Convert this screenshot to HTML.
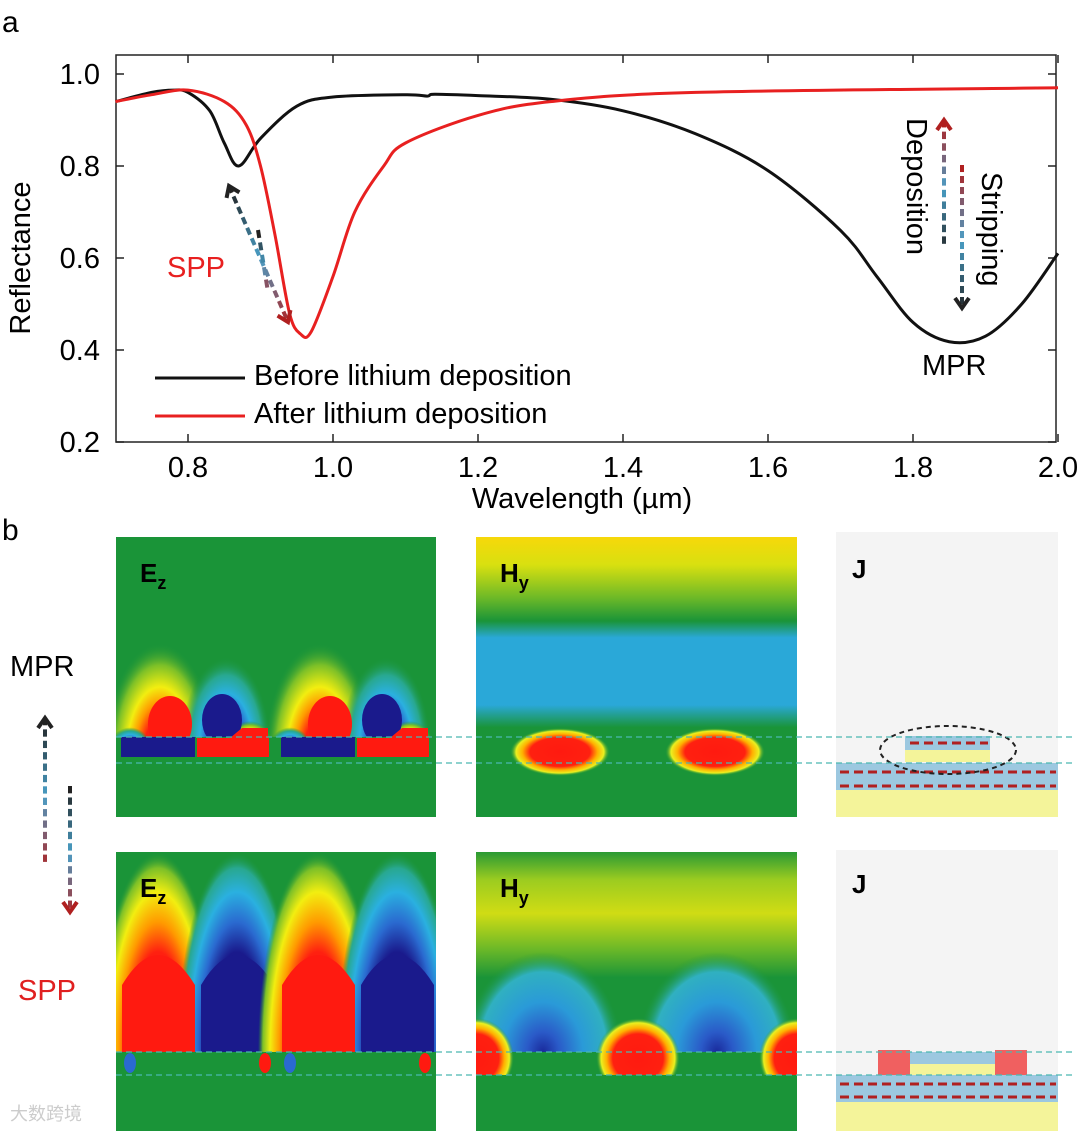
<!DOCTYPE html>
<html><head><meta charset="utf-8"><style>
html,body{margin:0;background:#fff;width:1080px;height:1133px;overflow:hidden;font-family:"Liberation Sans",sans-serif}
svg{position:absolute;left:0;top:0;display:block}
</style></head><body>
<svg id="s" width="1080" height="1133" viewBox="0 0 1080 1133" xmlns="http://www.w3.org/2000/svg" font-family="Liberation Sans, sans-serif">
<defs>
<radialGradient id="gRed" cx="50%" cy="65%" r="50%"><stop offset="0" stop-color="#ff1a10"/><stop offset="0.3" stop-color="#ff2010"/><stop offset="0.45" stop-color="#ff9a00"/><stop offset="0.6" stop-color="#f2ee10"/><stop offset="0.8" stop-color="#7cc028"/><stop offset="1" stop-color="#1a9438" stop-opacity="0"/></radialGradient>
<radialGradient id="gBlue" cx="50%" cy="65%" r="50%"><stop offset="0" stop-color="#1a1a8c"/><stop offset="0.3" stop-color="#1a1a8c"/><stop offset="0.45" stop-color="#2a6ad0"/><stop offset="0.6" stop-color="#2ab0e0"/><stop offset="0.8" stop-color="#28a890"/><stop offset="1" stop-color="#1a9438" stop-opacity="0"/></radialGradient>
<radialGradient id="bRed" cx="50%" cy="50%" r="50%"><stop offset="0" stop-color="#ff1a10"/><stop offset="0.5" stop-color="#ff2010"/><stop offset="0.65" stop-color="#ff9a00"/><stop offset="0.8" stop-color="#f2ee10"/><stop offset="0.92" stop-color="#7cc028"/><stop offset="1" stop-color="#1a9438" stop-opacity="0"/></radialGradient>
<radialGradient id="bBlue" cx="50%" cy="50%" r="50%"><stop offset="0" stop-color="#1a1a8c"/><stop offset="0.5" stop-color="#1a1a8c"/><stop offset="0.65" stop-color="#2a6ad0"/><stop offset="0.8" stop-color="#2ab0e0"/><stop offset="0.92" stop-color="#28a890"/><stop offset="1" stop-color="#1a9438" stop-opacity="0"/></radialGradient>
<radialGradient id="hRed" cx="50%" cy="50%" r="50%"><stop offset="0" stop-color="#ff1a10"/><stop offset="0.6" stop-color="#ff2010"/><stop offset="0.75" stop-color="#ffb000"/><stop offset="0.88" stop-color="#eaf020"/><stop offset="1" stop-color="#1a9438" stop-opacity="0"/></radialGradient>
<radialGradient id="hBlue" cx="50%" cy="50%" r="50%"><stop offset="0" stop-color="#1a2a9c"/><stop offset="0.2" stop-color="#2a5ac8"/><stop offset="0.5" stop-color="#2a9ad8"/><stop offset="0.8" stop-color="#30b0c0"/><stop offset="1" stop-color="#1a9438" stop-opacity="0"/></radialGradient>
<linearGradient id="hyTop" x1="0" y1="0" x2="0" y2="1"><stop offset="0" stop-color="#f7d80a"/><stop offset="0.1" stop-color="#d8e010"/><stop offset="0.22" stop-color="#6ab828"/><stop offset="0.3" stop-color="#1a9438"/><stop offset="0.36" stop-color="#2aa8d8"/><stop offset="0.6" stop-color="#2aa8d8"/><stop offset="0.68" stop-color="#1a9438"/><stop offset="1" stop-color="#1a9438"/></linearGradient>
<linearGradient id="hyBot" x1="0" y1="0" x2="0" y2="1"><stop offset="0" stop-color="#2a9a34"/><stop offset="0.1" stop-color="#9ccc20"/><stop offset="0.22" stop-color="#d0dc14"/><stop offset="0.35" stop-color="#6ab828"/><stop offset="0.45" stop-color="#1a9438"/><stop offset="1" stop-color="#1a9438"/></linearGradient>
<clipPath id="c1"><rect x="116" y="537" width="320" height="280"/></clipPath>
<clipPath id="c2"><rect x="476" y="537" width="321" height="280"/></clipPath>
<clipPath id="c3"><rect x="116" y="852" width="320" height="279"/></clipPath>
<clipPath id="c4"><rect x="476" y="852" width="321" height="279"/></clipPath>
<clipPath id="aboveT"><rect x="116" y="537" width="320" height="200"/></clipPath>
<clipPath id="aboveB"><rect x="116" y="852" width="320" height="200"/></clipPath>
<clipPath id="aboveH"><rect x="476" y="852" width="321" height="200"/></clipPath>
<clipPath id="aboveH2"><rect x="476" y="852" width="321" height="223"/></clipPath>
</defs>

<text x="2" y="32" font-size="30">a</text>
<text x="2" y="540" font-size="30">b</text>
<g id="chart"></g>

<g clip-path="url(#c1)">
<rect x="116" y="537" width="320" height="280" fill="#1a9438"/>
<g id="ezTop"></g>
<text x="140" y="582" font-size="26" font-weight="bold">E<tspan font-size="18" dy="7">z</tspan></text>
</g>
<g clip-path="url(#c2)">
<rect x="476" y="537" width="321" height="280" fill="url(#hyTop)"/>
<ellipse cx="560" cy="752" rx="50" ry="24" fill="url(#hRed)"/>
<ellipse cx="715" cy="752" rx="50" ry="24" fill="url(#hRed)"/>
<text x="500" y="582" font-size="26" font-weight="bold">H<tspan font-size="18" dy="7">y</tspan></text>
</g>
<g>
<rect x="836" y="532" width="222" height="285" fill="#f4f4f4"/>
<rect x="905" y="736" width="85" height="14" fill="#9cc8e0"/>
<rect x="905" y="750" width="85" height="12" fill="#f4f49a"/>
<line x1="910" y1="743" x2="988" y2="743" stroke="#b02020" stroke-width="3" stroke-dasharray="9,5"/>
<rect x="836" y="763" width="222" height="27" fill="#9cc8e0"/>
<rect x="836" y="790" width="222" height="27" fill="#f4f49a"/>
<line x1="840" y1="772" x2="1056" y2="772" stroke="#b02020" stroke-width="3" stroke-dasharray="9,5"/>
<line x1="840" y1="786" x2="1056" y2="786" stroke="#b02020" stroke-width="3" stroke-dasharray="9,5"/>
<ellipse cx="948" cy="750" rx="68" ry="24" fill="none" stroke="#222" stroke-width="2" stroke-dasharray="5,4"/>
<text x="852" y="578" font-size="26" font-weight="bold">J</text>
</g>
<g clip-path="url(#c3)">
<rect x="116" y="852" width="320" height="279" fill="#1a9438"/>
<g id="ezBot"></g>
<text x="140" y="897" font-size="26" font-weight="bold">E<tspan font-size="18" dy="7">z</tspan></text>
</g>
<g clip-path="url(#c4)">
<rect x="476" y="852" width="321" height="279" fill="url(#hyBot)"/>
<g clip-path="url(#aboveH)">
<ellipse cx="543" cy="1052" rx="80" ry="100" fill="url(#hBlue)"/>
<ellipse cx="717" cy="1052" rx="80" ry="100" fill="url(#hBlue)"/>
</g>
<g clip-path="url(#aboveH2)">
<ellipse cx="476" cy="1058" rx="38" ry="40" fill="url(#hRed)"/>
<ellipse cx="638" cy="1058" rx="42" ry="40" fill="url(#hRed)"/>
<ellipse cx="797" cy="1058" rx="38" ry="40" fill="url(#hRed)"/>
</g>
<text x="500" y="897" font-size="26" font-weight="bold">H<tspan font-size="18" dy="7">y</tspan></text>
</g>
<g>
<rect x="836" y="850" width="222" height="281" fill="#f4f4f4"/>
<rect x="878" y="1050" width="32" height="25" fill="#f06060"/>
<rect x="995" y="1050" width="32" height="25" fill="#f06060"/>
<rect x="910" y="1052" width="85" height="12" fill="#9cc8e0"/>
<rect x="910" y="1064" width="85" height="11" fill="#f4f49a"/>
<rect x="836" y="1075" width="222" height="27" fill="#9cc8e0"/>
<rect x="836" y="1102" width="222" height="29" fill="#f4f49a"/>
<line x1="840" y1="1084" x2="1056" y2="1084" stroke="#b02020" stroke-width="3" stroke-dasharray="9,5"/>
<line x1="840" y1="1097" x2="1056" y2="1097" stroke="#b02020" stroke-width="3" stroke-dasharray="9,5"/>
<text x="852" y="893" font-size="26" font-weight="bold">J</text>
</g>
<g stroke="#4ab8b0" stroke-width="1.2" stroke-dasharray="6,4">
<line x1="116" y1="737" x2="1072" y2="737"/><line x1="116" y1="763" x2="1072" y2="763"/>
<line x1="116" y1="1052" x2="1072" y2="1052"/><line x1="116" y1="1075" x2="1072" y2="1075"/>
</g>
<text x="10" y="676" font-size="29">MPR</text>
<text x="18" y="1000" font-size="29" fill="#e02020">SPP</text>
<g id="arrows"></g>
<text x="10" y="1120" font-size="18" fill="#ccc">大数跨境</text>
</svg>
<script>
const NS="http://www.w3.org/2000/svg";
const xTicks=[0.8,1.0,1.2,1.4,1.6,1.8,2.0];
const yTicks=[0.2,0.4,0.6,0.8,1.0];
const beforeX=[0.7,0.75,0.78,0.8,0.83,0.85,0.87,0.9,0.95,1.0,1.1,1.13,1.14,1.2,1.3,1.4,1.5,1.6,1.7,1.75,1.8,1.85,1.9,1.95,2.0];
const beforeY=[0.94,0.96,0.965,0.96,0.92,0.85,0.80,0.86,0.93,0.95,0.955,0.952,0.956,0.953,0.945,0.92,0.87,0.79,0.66,0.56,0.46,0.418,0.43,0.50,0.61];
const afterX=[0.7,0.75,0.8,0.85,0.88,0.9,0.92,0.94,0.955,0.97,1.0,1.03,1.07,1.1,1.2,1.3,1.5,2.0];
const afterY=[0.94,0.955,0.965,0.94,0.89,0.80,0.65,0.48,0.435,0.44,0.56,0.70,0.80,0.85,0.91,0.94,0.96,0.97];
const L=116,R=1056,T=55,B=442;
const sx=v=>333+(v-1.0)*725, sy=v=>74+(1.0-v)*460;
const g=document.getElementById('chart');
function el(t,a,p){const e=document.createElementNS(NS,t);for(const k in a)e.setAttribute(k,a[k]);(p||g).appendChild(e);return e;}
const frame=el('rect',{x:L,y:T,width:R-L,height:B-T,fill:'none',stroke:'#222','stroke-width':1.5});


xTicks.forEach(v=>{
  el('line',{x1:sx(v),y1:B,x2:sx(v),y2:B-8,stroke:'#222','stroke-width':1.5});
  el('line',{x1:sx(v),y1:T,x2:sx(v),y2:T+8,stroke:'#222','stroke-width':1.5});
  const t=el('text',{x:sx(v),y:477,'font-size':29,'text-anchor':'middle'});t.textContent=v.toFixed(1);
  
  
});
yTicks.forEach(v=>{
  el('line',{x1:L,y1:sy(v),x2:L+8,y2:sy(v),stroke:'#222','stroke-width':1.5});
  el('line',{x1:R,y1:sy(v),x2:R-8,y2:sy(v),stroke:'#222','stroke-width':1.5});
  const t=el('text',{x:100,y:sy(v)+10,'font-size':29,'text-anchor':'end'});t.textContent=v.toFixed(1);
  
  
});
function smooth(pts){let d='M'+pts[0][0]+','+pts[0][1];
 for(let i=0;i<pts.length-1;i++){const p0=pts[i-1]||pts[i],p1=pts[i],p2=pts[i+1],p3=pts[i+2]||p2;
  d+=` C${p1[0]+(p2[0]-p0[0])/6},${p1[1]+(p2[1]-p0[1])/6} ${p2[0]-(p3[0]-p1[0])/6},${p2[1]-(p3[1]-p1[1])/6} ${p2[0]},${p2[1]}`;}
 return d;}
function line(xs,ys,c,n){const p=el('path',{d:smooth(xs.map((x,i)=>[sx(x),sy(ys[i])])),fill:'none',stroke:c,'stroke-width':3,'stroke-linejoin':'round'});
 
 }
line(beforeX,beforeY,'#111','before-deposition-line');
line(afterX,afterY,'#e82020','after-deposition-line');
let t=el('text',{x:582,y:508,'font-size':29,'text-anchor':'middle'});t.textContent='Wavelength (µm)';


t=el('text',{x:0,y:0,'font-size':29,'text-anchor':'middle',transform:'translate(30,258) rotate(-90)'});t.textContent='Reflectance';


el('line',{x1:155,y1:378,x2:245,y2:378,stroke:'#111','stroke-width':3});
el('line',{x1:155,y1:416,x2:245,y2:416,stroke:'#e82020','stroke-width':3});
t=el('text',{x:254,y:385,'font-size':29});t.textContent='Before lithium deposition';


t=el('text',{x:254,y:423,'font-size':29});t.textContent='After lithium deposition';


t=el('text',{x:167,y:277,'font-size':29,fill:'#e82020'});t.textContent='SPP';


t=el('text',{x:922,y:375,'font-size':29});t.textContent='MPR';


t=el('text',{x:0,y:0,'font-size':29,transform:'translate(907,118) rotate(90)'});t.textContent='Deposition';


t=el('text',{x:0,y:0,'font-size':29,transform:'translate(982,172) rotate(90)'});t.textContent='Stripping';



const A=document.getElementById('arrows');
function mix(a,b,f){return 'rgb('+a.map((v,i)=>Math.round(v+(b[i]-v)*f)).join(',')+')';}
const K=[34,34,34],Cy=[74,160,200],Rd=[176,32,32];
function col(f){return f<0.5?mix(K,Cy,f/0.5):mix(Cy,Rd,(f-0.5)/0.5);}
function darrow(par,x1,y1,x2,y2,headStart,headEnd,rev){
 const len=Math.hypot(x2-x1,y2-y1),n=Math.floor(len/11);
 for(let i=0;i<n;i++){const f0=i/n,f1=(i+0.64)/n,f=rev?1-f0:f0;
  el('line',{x1:x1+(x2-x1)*f0,y1:y1+(y2-y1)*f0,x2:x1+(x2-x1)*f1,y2:y1+(y2-y1)*f1,stroke:col(f),'stroke-width':4},par);}
 const ux=(x2-x1)/len,uy=(y2-y1)/len,px=-uy,py=ux;
 function head(x,y,dx,dy,c){el('path',{d:`M${x-dx*10+px*7},${y-dy*10+py*7} L${x},${y} L${x-dx*10-px*7},${y-dy*10-py*7}`,fill:'none',stroke:c,'stroke-width':4},par);}
 if(headStart)head(x1,y1,-ux,-uy,rev?col(1):col(0));
 if(headEnd)head(x2,y2,ux,uy,rev?col(0):col(1));
}
darrow(g,229,186,288,322,true,true,false);
darrow(g,258,230,268,292,false,false,false);
darrow(g,944,120,944,248,true,false,true);
darrow(g,962,165,962,308,false,true,true);
darrow(A,45,718,45,866,true,false,false);
darrow(A,70,786,70,912,false,true,false);

const ezT=document.getElementById('ezTop');
const gT=el('g',{'clip-path':'url(#aboveT)'},ezT);
[0,160].forEach(o=>{
 el('ellipse',{cx:160+o,cy:720,rx:55,ry:110,fill:'url(#gRed)'},gT);
 el('ellipse',{cx:226+o,cy:720,rx:45,ry:90,fill:'url(#gBlue)'},gT);
 el('ellipse',{cx:250+o,cy:735,rx:22,ry:20,fill:'url(#gRed)'},gT);
 el('ellipse',{cx:130+o,cy:740,rx:20,ry:18,fill:'url(#gBlue)'},gT);
 el('ellipse',{cx:170+o,cy:724,rx:22,ry:28,fill:'#ff1a10'},gT);
 el('ellipse',{cx:222+o,cy:720,rx:20,ry:26,fill:'#1a1a8c'},gT);
 el('rect',{x:121+o,y:737,width:74,height:20,fill:'#1a1a8c'},ezT);
 el('rect',{x:197+o,y:738,width:72,height:19,fill:'#ff1a10'},ezT);
 el('path',{d:`M${230+o},738 L${242+o},728 L${268+o},728 L${268+o},740Z`,fill:'#ff1a10'},ezT);
});
const ezB=document.getElementById('ezBot');
const gB=el('g',{'clip-path':'url(#aboveB)'},ezB);
[0,160].forEach(o=>{
 el('ellipse',{cx:158+o,cy:1052,rx:60,ry:200,fill:'url(#bRed)'},gB);
 el('ellipse',{cx:237+o,cy:1052,rx:60,ry:200,fill:'url(#bBlue)'},gB);
 el('path',{d:`M${122+o},1052 L${122+o},985 Q${158+o},925 ${195+o},985 L${195+o},1052Z`,fill:'#ff1a10'},gB);
 el('path',{d:`M${201+o},1052 L${201+o},985 Q${237+o},925 ${274+o},985 L${274+o},1052Z`,fill:'#1a1a8c'},gB);
 el('ellipse',{cx:130+o,cy:1063,rx:6,ry:10,fill:'#2a6ad0'},ezB);
 el('ellipse',{cx:265+o,cy:1063,rx:6,ry:10,fill:'#ff1a10'},ezB);
});
</script>
</body></html>
